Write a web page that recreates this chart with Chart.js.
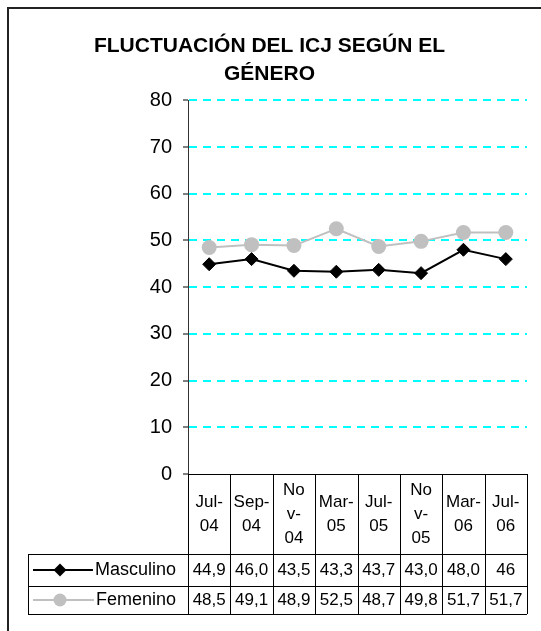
<!DOCTYPE html>
<html>
<head>
<meta charset="utf-8">
<script src="https://cdn.jsdelivr.net/npm/chart.js@4"></script>
<style>
  html, body { margin: 0; padding: 0; background: #fff; }
  #wrap { width: 541px; height: 631px; position: relative; }
</style>
</head>
<body>
<div id="wrap"><canvas id="icjChart"></canvas></div>
<script>
// data
const categories = [['Jul-', '04'], ['Sep-', '04'], ['No', 'v-', '04'], ['Mar-', '05'],
                    ['Jul-', '05'], ['No', 'v-', '05'], ['Mar-', '06'], ['Jul-', '06']];
const masculino = [44.9, 46.0, 43.5, 43.3, 43.7, 43.0, 48.0, 46];
const femenino = [48.5, 49.1, 48.9, 52.5, 48.7, 49.8, 51.7, 51.7];
// text shown in the data table, as printed
const masculinoText = ['44,9', '46,0', '43,5', '43,3', '43,7', '43,0', '48,0', '46'];
const femeninoText = ['48,5', '49,1', '48,9', '52,5', '48,7', '49,8', '51,7', '51,7'];
const yMin = 0, yMax = 80, yStep = 10;

const FONT = "Arial, 'Liberation Sans', sans-serif";

const px = v => Math.round(v) + 0.5;

// frame + data table under the plot
const tablePlugin = {
  id: 'dataTable',
  beforeDraw(chart) {
    const ctx = chart.ctx;
    ctx.save();
    ctx.fillStyle = '#222';
    ctx.fillRect(7, 7, chart.width - 7, 2);
    ctx.fillRect(7, 7, 2, chart.height - 7);
    ctx.restore();
  },
  afterDraw(chart) {
    const { ctx, chartArea } = chart;
    const xs = chart.scales.x;
    const n = categories.length;
    const step = (chartArea.right - chartArea.left) / n;
    const top = chartArea.bottom;
    const headBottom = top + 80;
    const row1 = headBottom + 32;
    const row2 = row1 + 28;
    const keyLeft = 28;
    const labelRight = 176;

    ctx.save();
    ctx.strokeStyle = '#000';
    ctx.lineWidth = 1;
    ctx.beginPath();
    ctx.moveTo(chartArea.left, px(top));
    ctx.lineTo(chartArea.right, px(top));
    [headBottom, row1, row2].forEach(y => {
      ctx.moveTo(keyLeft, px(y));
      ctx.lineTo(chartArea.right, px(y));
    });
    for (let i = 0; i <= n; i++) {
      const x = px(chartArea.left + i * step);
      ctx.moveTo(x, top);
      ctx.lineTo(x, row2);
    }
    ctx.moveTo(px(keyLeft), headBottom);
    ctx.lineTo(px(keyLeft), row2);
    ctx.stroke();

    ctx.fillStyle = '#000';
    ctx.font = '17px ' + FONT;
    ctx.textAlign = 'center';
    ctx.textBaseline = 'middle';
    const headMid = (top + headBottom) / 2;
    categories.forEach((lines, i) => {
      const cx = xs.getPixelForValue(i);
      const lh = 24;
      const y0 = headMid - (lines.length - 1) * lh / 2;
      lines.forEach((t, j) => ctx.fillText(t, cx, y0 + j * lh));
    });

    const rows = [
      { ds: chart.data.datasets[0], text: masculinoText, y: (headBottom + row1) / 2 },
      { ds: chart.data.datasets[1], text: femeninoText, y: (row1 + row2) / 2 }
    ];
    rows.forEach(r => {
      ctx.font = '17px ' + FONT;
      ctx.textAlign = 'center';
      ctx.fillStyle = '#000';
      r.text.forEach((t, i) => ctx.fillText(t, xs.getPixelForValue(i), r.y));

      ctx.font = '18px ' + FONT;
      ctx.textAlign = 'right';
      ctx.fillText(r.ds.label, labelRight, r.y);
      const w = ctx.measureText(r.ds.label).width;
      // legend key
      ctx.strokeStyle = r.ds.borderColor;
      ctx.lineWidth = 2;
      ctx.beginPath();
      ctx.moveTo(33, r.y);
      ctx.lineTo(labelRight - w - 2, r.y);
      ctx.stroke();
      const mx = 60;
      ctx.fillStyle = r.ds.pointBackgroundColor;
      ctx.beginPath();
      if (r.ds.pointStyle === 'rectRot') {
        const s = 6.5;
        ctx.moveTo(mx, r.y - s);
        ctx.lineTo(mx + s, r.y);
        ctx.lineTo(mx, r.y + s);
        ctx.lineTo(mx - s, r.y);
        ctx.closePath();
      } else {
        ctx.arc(mx, r.y, 6.5, 0, Math.PI * 2);
      }
      ctx.fill();
    });
    ctx.restore();
  }
};

new Chart(document.getElementById('icjChart'), {
  type: 'line',
  data: {
    labels: categories,
    datasets: [
      {
        label: 'Masculino',
        data: masculino,
        borderColor: '#000000',
        borderWidth: 2,
        pointStyle: 'rectRot',
        pointRadius: 6.5,
        pointBackgroundColor: '#000000',
        pointBorderColor: '#000000',
        pointBorderWidth: 1,
        tension: 0
      },
      {
        label: 'Femenino',
        data: femenino,
        borderColor: '#C0C0C0',
        borderWidth: 2,
        pointStyle: 'circle',
        pointRadius: 7.5,
        pointBackgroundColor: '#C0C0C0',
        pointBorderColor: '#C0C0C0',
        pointBorderWidth: 0,
        tension: 0
      }
    ]
  },
  options: {
    responsive: true,
    maintainAspectRatio: false,
    animation: false,
    layout: { padding: { top: 14, left: 12, right: 14, bottom: 157 } },
    plugins: {
      legend: { display: false },
      tooltip: { enabled: false },
      title: {
        display: true,
        text: ['FLUCTUACIÓN DEL ICJ SEGÚN EL', 'GÉNERO'],
        color: '#000',
        font: { family: FONT, size: 21, weight: 'bold', lineHeight: 1.34 },
        padding: { top: 18, bottom: 12 }
      }
    },
    scales: {
      x: {
        display: false,
        offset: true
      },
      y: {
        min: yMin,
        max: yMax,
        afterFit(scale) { scale.width = 176; },
        ticks: {
          stepSize: yStep,
          color: '#000',
          padding: 11,
          font: { family: FONT, size: 20 }
        },
        grid: {
          color: c => (c.tick && c.tick.value === 0) ? 'rgba(0,0,0,0)' : '#00FFFF',
          lineWidth: 2,
          tickLength: 5,
          tickColor: '#000',
          tickWidth: 1,
          tickBorderDash: []
        },
        border: { display: true, color: '#333', width: 1, dash: [8, 6] }
      }
    }
  },
  plugins: [tablePlugin]
});
</script>
</body>
</html>
